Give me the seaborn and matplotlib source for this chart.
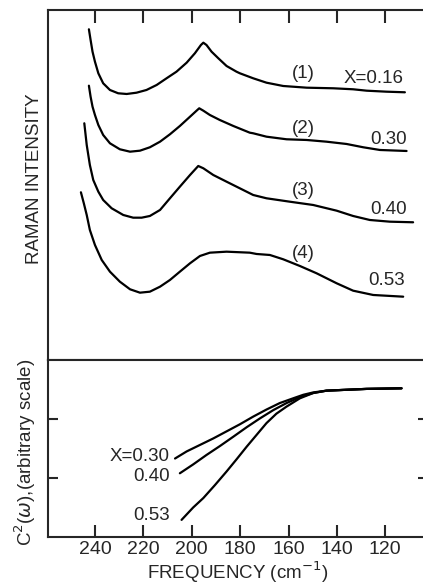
import numpy as np
import pandas as pd
import matplotlib
matplotlib.use("Agg")
import matplotlib.pyplot as plt
import seaborn as sns

# Raman spectra (frequency in cm^-1, intensity in arbitrary units)
freq_1 = [242.5, 241.8, 241.0, 240.0, 238.6, 236.6, 233.8, 230.4, 226.9, 222.8, 218.7, 214.5,
          210.4, 206.3, 202.1, 198.7, 196.2, 195.2, 193.9, 191.8, 189.0, 185.6, 181.5, 180.1,
          174.6, 169.1, 162.2, 152.5, 141.5, 133.3, 127.7, 119.5, 111.9]
int_1 = [330.7, 320.0, 308.3, 298.3, 286.7, 276.7, 270.0, 266.7, 266.0, 267.3, 270.0, 275.0,
         281.7, 288.3, 297.3, 306.7, 315.0, 317.3, 315.0, 308.3, 301.7, 294.0, 288.3, 286.7,
         281.7, 277.3, 274.0, 272.3, 271.7, 270.7, 269.3, 268.3, 267.7]

freq_2 = [242.5, 241.8, 241.0, 240.0, 238.6, 236.6, 233.8, 229.7, 225.5, 221.4, 217.3, 213.1,
          209.0, 204.9, 200.7, 198.0, 196.9, 195.2, 192.5, 188.4, 182.8, 176.0, 174.6, 169.1,
          160.8, 152.5, 144.3, 136.0, 129.1, 122.2, 111.2]
int_2 = [274.3, 263.3, 253.3, 245.0, 235.0, 225.0, 216.7, 210.7, 208.3, 209.3, 212.7, 218.3,
         225.7, 234.0, 243.3, 249.3, 251.7, 249.3, 245.0, 240.0, 234.0, 227.3, 226.7, 223.3,
         220.7, 220.0, 218.3, 216.0, 212.7, 210.0, 209.0]

freq_3 = [244.4, 243.4, 242.1, 240.7, 238.6, 236.6, 233.1, 228.3, 224.2, 220.7, 217.3, 213.1,
          209.0, 204.9, 200.7, 197.3, 195.2, 191.1, 185.6, 176.0, 174.6, 169.1, 159.5, 149.8,
          140.1, 133.3, 126.4, 118.1, 108.5]
int_3 = [236.7, 215.0, 195.0, 180.0, 168.3, 160.0, 151.7, 145.0, 142.3, 142.3, 144.0, 150.0,
         161.7, 173.3, 185.0, 194.0, 191.7, 185.0, 178.3, 166.7, 165.0, 161.7, 158.3, 155.0,
         149.3, 144.0, 140.0, 138.3, 137.7]

freq_4 = [245.8, 244.6, 243.4, 242.1, 240.0, 237.2, 233.8, 229.7, 225.5, 221.4, 217.3, 213.1,
          209.0, 204.9, 200.7, 196.6, 192.5, 185.6, 176.0, 173.2, 167.7, 162.2, 155.3, 148.4,
          140.1, 133.3, 125.0, 112.6]
int_4 = [167.7, 156.7, 145.0, 130.0, 115.0, 100.0, 88.3, 78.3, 70.7, 67.3, 68.3, 73.3,
         80.0, 88.3, 96.7, 104.0, 107.3, 108.3, 107.3, 106.0, 105.0, 100.7, 94.0, 86.7,
         76.7, 69.3, 65.0, 63.3]

spec_tags = ["(1)", "(2)", "(3)", "(4)"]
spec_x = ["X=0.16", "0.30", "0.40", "0.53"]

# C^2(omega) curves
c2_freq_30 = [206.9, 202.1, 196.6, 191.1, 185.6, 180.1, 174.6, 169.1, 163.6, 158.1, 153.9,
              149.8, 144.3, 138.8, 127.7, 113.3]
c2_val_30 = [1.33, 1.45, 1.56, 1.67, 1.79, 1.91, 2.04, 2.16, 2.27, 2.35, 2.41,
             2.45, 2.48, 2.49, 2.51, 2.52]
c2_freq_40 = [204.9, 199.4, 193.9, 188.4, 182.8, 177.3, 171.8, 166.3, 160.8, 155.3, 149.8,
              144.3, 138.8, 127.7, 113.3]
c2_val_40 = [1.08, 1.23, 1.39, 1.54, 1.70, 1.86, 2.01, 2.15, 2.27, 2.37, 2.44,
             2.48, 2.49, 2.51, 2.52]
c2_freq_53 = [204.2, 199.4, 195.2, 190.4, 185.6, 181.4, 177.3, 173.2, 169.1, 165.0, 160.8,
              155.3, 149.8, 144.3, 138.8, 127.7, 113.3]
c2_val_53 = [0.29, 0.50, 0.66, 0.88, 1.11, 1.32, 1.53, 1.73, 1.93, 2.09, 2.21,
             2.35, 2.44, 2.48, 2.49, 2.51, 2.52]
c2_labels = ["X=0.30", "0.40", "0.53"]

freq_ticks = [240, 220, 200, 180, 160, 140, 120]

sns.set_style("ticks")
plt.rcParams['font.family'] = ['Liberation Sans', 'DejaVu Sans']
plt.rcParams['axes.linewidth'] = 1.5

fig = plt.figure(figsize=(4.23, 5.84), dpi=100)
ax_top = fig.add_axes([0.1135, 0.3836, 0.898, 0.5993])
ax_bot = fig.add_axes([0.1135, 0.0805, 0.898, 0.3031])

spectra = [(freq_1, int_1), (freq_2, int_2), (freq_3, int_3), (freq_4, int_4)]
for f, v in spectra:
    df = pd.DataFrame({"freq": f, "intensity": v})
    sns.lineplot(data=df, x="freq", y="intensity", sort=False, estimator=None,
                 color="black", linewidth=1.6, ax=ax_top)

# labels on the spectra
tag_y = [286.7, 231.7, 169, 106]
x_y = [281.7, 220.7, 150.7, 79.3]
x_pos = [124.7, 118.8, 118.8, 119.5]
for i in range(4):
    ax_top.text(153.9, tag_y[i], spec_tags[i], ha="center", va="center", fontsize=13.5)
    ax_top.text(x_pos[i], x_y[i], spec_x[i], ha="center", va="center", fontsize=13.5)

ax_top.set_xlim(259.4, 102.4)
ax_top.set_ylim(0, 350)
ax_top.set_xticks(freq_ticks)
ax_top.set_yticks([])
ax_top.tick_params(axis="x", direction="in", top=True, bottom=False,
                   labelbottom=False, length=9.5, width=1.5)
ax_top.set_xlabel("")
ax_top.set_ylabel("RAMAN INTENSITY", fontsize=13.5)
ax_top.yaxis.set_label_coords(-0.012, 0.517)

c2_curves = [(c2_freq_30, c2_val_30), (c2_freq_40, c2_val_40), (c2_freq_53, c2_val_53)]
for f, v in c2_curves:
    df = pd.DataFrame({"freq": f, "c2": v})
    sns.lineplot(data=df, x="freq", y="c2", sort=False, estimator=None,
                 color="black", linewidth=1.6, ax=ax_bot)

c2_label_y = [1.36, 1.03, 0.36]
for lab, yy in zip(c2_labels, c2_label_y):
    ax_bot.text(209.0, yy, lab, ha="right", va="center", fontsize=13.5)

ax_bot.set_xlim(259.4, 102.4)
ax_bot.set_ylim(0, 3)
ax_bot.set_xticks(freq_ticks)
ax_bot.set_xticklabels([str(t) for t in freq_ticks])
ax_bot.set_yticks([1, 2])
ax_bot.set_yticklabels([])
ax_bot.tick_params(axis="x", direction="in", length=8.5, width=1.5, pad=3, labelsize=14)
ax_bot.tick_params(axis="y", direction="in", left=True, right=True, length=7, width=1.5)
ax_bot.set_xlabel("FREQUENCY (cm$^{-1}$)", fontsize=13.5, labelpad=1)
ax_bot.set_ylabel(r"C$^2$($\omega$),(arbitrary scale)", fontsize=13.5)
ax_bot.yaxis.set_label_coords(-0.026, 0.48)

fig.savefig("out.png", dpi=100)
